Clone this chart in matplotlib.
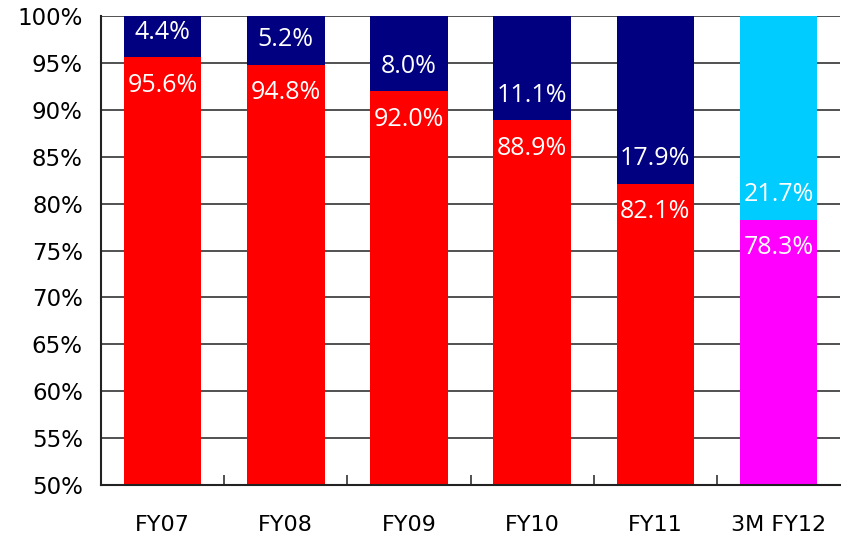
import matplotlib
matplotlib.use("Agg")
import matplotlib.pyplot as plt
import numpy as np

categories = ["FY07", "FY08", "FY09", "FY10", "FY11", "3M FY12"]
bottom_vals = [95.6, 94.8, 92.0, 88.9, 82.1, 78.3]
top_vals = [4.4, 5.2, 8.0, 11.1, 17.9, 21.7]
bottom_colors = ["#FF0000"] * 5 + ["#FF00FF"]
top_colors = ["#000080"] * 5 + ["#00CCFF"]
yticks = [50, 55, 60, 65, 70, 75, 80, 85, 90, 95, 100]

plt.rcParams['font.family'] = ['DejaVu Sans']

fig = plt.figure(figsize=(8.41, 5.37), dpi=100)
ax = fig.add_axes([0.120, 0.097, 0.879, 0.873])

x = np.arange(len(categories))
ax.bar(x, bottom_vals, width=0.63, color=bottom_colors, zorder=2)
ax.bar(x, top_vals, width=0.63, bottom=bottom_vals, color=top_colors, zorder=2)

lab_font = ["Open Sans", "DejaVu Sans"]
for xi, b, t in zip(x, bottom_vals, top_vals):
    ax.annotate(f"{b:.1f}%", (xi, b), xytext=(0, -28), textcoords="offset pixels",
                ha="center", va="center", color="white", fontsize=18,
                family=lab_font, zorder=3)
    ax.annotate(f"{t:.1f}%", (xi, b), xytext=(0, 25), textcoords="offset pixels",
                ha="center", va="center", color="white", fontsize=18,
                family=lab_font, zorder=3)

ax.set_ylim(50, 100)
ax.set_xlim(-0.5, len(categories) - 0.5)
ax.set_yticks(yticks)
ax.set_yticklabels([f"{v}%" for v in yticks], fontsize=16.5)
ax.set_xticks(x)
ax.set_xticklabels(categories, fontsize=16)
ax.tick_params(axis="y", length=0, pad=13)
ax.tick_params(axis="x", length=0, pad=22)
ax.set_xticks(np.arange(0.5, len(categories) - 0.5, 1.0), minor=True)
ax.tick_params(axis="x", which="minor", direction="in", length=7, width=1.2, color="#333333")
ax.grid(axis="y", color="#333333", linewidth=1.2, zorder=1)
for s in ["top", "right"]:
    ax.spines[s].set_visible(False)
for s in ["left", "bottom"]:
    ax.spines[s].set_linewidth(1.5)
    ax.spines[s].set_color("#222222")

fig.savefig("out.png", dpi=100)
